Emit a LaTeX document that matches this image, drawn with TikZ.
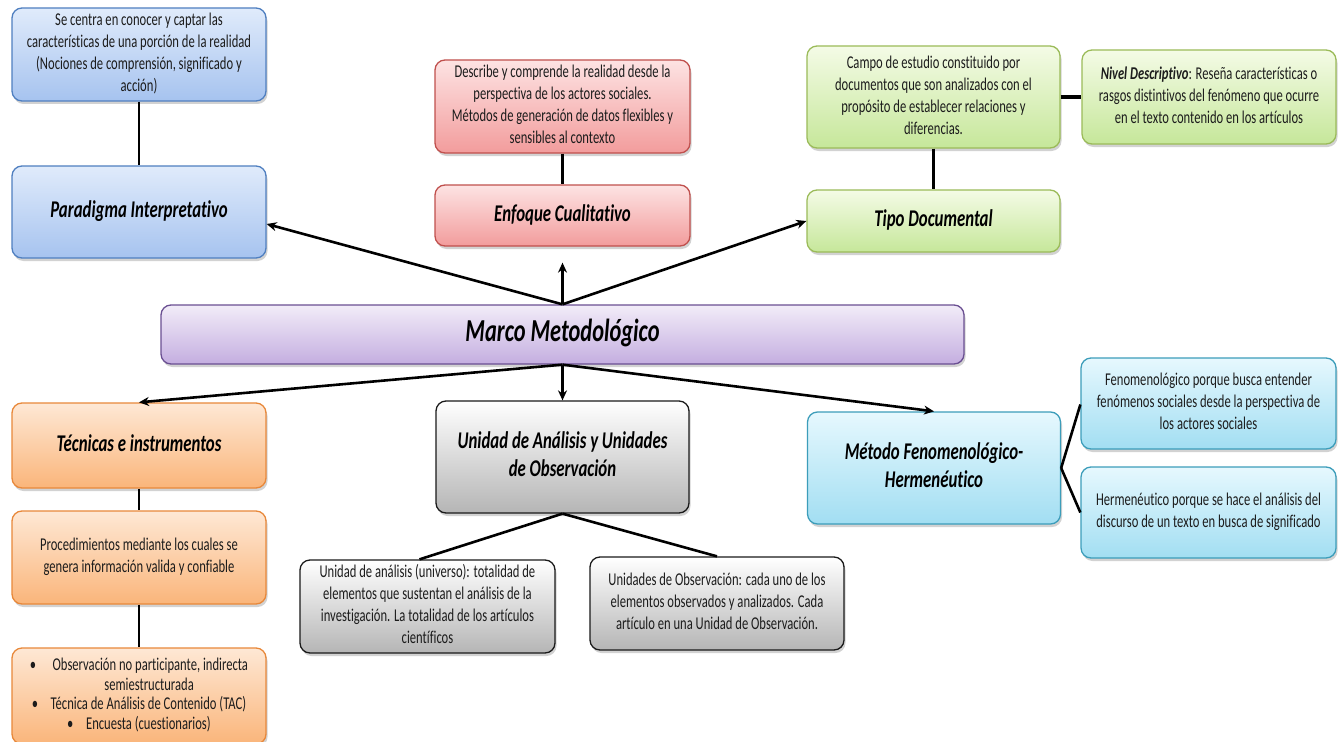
\documentclass[tikz,border=0pt]{standalone}
\usepackage{fontspec}
\setmainfont{Carlito}[RawFeature={-liga;-clig;-calt}]
\usepackage{graphicx}
\usetikzlibrary{shadows,arrows.meta,calc}

% box palettes: top shade, bottom shade, outline
\definecolor{blueTop}{HTML}{E0EBFB}\definecolor{blueBot}{HTML}{A6C3EF}\definecolor{blueLine}{HTML}{4F7FC0}
\definecolor{redTop}{HTML}{FDE3E3}\definecolor{redBot}{HTML}{F29C9C}\definecolor{redLine}{HTML}{C0504D}
\definecolor{greenTop}{HTML}{F4FBE6}\definecolor{greenBot}{HTML}{C6E79A}\definecolor{greenLine}{HTML}{9BBB59}
\definecolor{purpleTop}{HTML}{F2ECF8}\definecolor{purpleBot}{HTML}{C4AEE0}\definecolor{purpleLine}{HTML}{6A4F92}
\definecolor{orangeTop}{HTML}{FEE8D5}\definecolor{orangeBot}{HTML}{FAB57A}\definecolor{orangeLine}{HTML}{E8883A}
\definecolor{grayTop}{HTML}{FFFFFF}\definecolor{grayBot}{HTML}{B5B5B5}\definecolor{grayLine}{HTML}{1A1A1A}
\definecolor{cyanTop}{HTML}{E6F8FE}\definecolor{cyanBot}{HTML}{A2DEF2}\definecolor{cyanLine}{HTML}{3C9DBA}
\definecolor{bodyText}{HTML}{1C1C1C}

% condensed, centred multi-line text
\newcommand{\narrow}[1]{\scalebox{0.7}[1]{\begin{tabular}{@{}c@{}}#1\end{tabular}}}

\begin{document}
\begin{tikzpicture}[x=1pt,y=-1pt,
  box/.style={rounded corners=10pt, line width=1.3pt, inner sep=0pt,
    minimum width=254pt,
    drop shadow={shadow xshift=1.5pt, shadow yshift=-3pt, opacity=0.35}},
  bluebox/.style={box, draw=blueLine, top color=blueTop, bottom color=blueBot},
  redbox/.style={box, draw=redLine, top color=redTop, bottom color=redBot},
  greenbox/.style={box, draw=greenLine, top color=greenTop, bottom color=greenBot},
  purplebox/.style={box, draw=purpleLine, top color=purpleTop, bottom color=purpleBot},
  orangebox/.style={box, draw=orangeLine, top color=orangeTop, bottom color=orangeBot},
  graybox/.style={box, draw=grayLine, top color=grayTop, bottom color=grayBot},
  cyanbox/.style={box, draw=cyanLine, top color=cyanTop, bottom color=cyanBot},
  body/.style={font=\fontsize{18}{22}\selectfont, text=bodyText},
  title/.style={font=\fontsize{24}{28}\selectfont\bfseries\itshape, text=black},
  link/.style={line width=2.6pt, black},
  arrowlink/.style={link, -{Stealth[length=10pt,width=9pt]}}
]
\useasboundingbox[fill=white] (0,0) rectangle (1340,741);

% ---- upper row ----
\node[bluebox, body, minimum height=93pt] (interpDesc) at (139,54.5)
  {\narrow{Se centra en conocer y captar las\\características de una porción de la realidad\\(Nociones de comprensión, significado y\\acción)}};
\node[bluebox, title, minimum height=92pt] (paradigma) at (139,212)
  {\narrow{Paradigma Interpretativo}};

\node[redbox, body, minimum width=255pt, minimum height=93pt] (cualDesc) at (562.5,106.5)
  {\narrow{Describe y comprende la realidad desde la\\perspectiva de los actores sociales.\\Métodos de generación de datos flexibles y\\sensibles al contexto}};
\node[redbox, title, minimum width=255pt, minimum height=61pt] (enfoque) at (562.5,215.5)
  {\narrow{Enfoque Cualitativo}};

\node[greenbox, body, minimum width=253pt, minimum height=102pt] (docDesc) at (933.5,97)
  {\narrow{Campo de estudio constituido por\\documentos que son analizados con el\\propósito de establecer relaciones y\\diferencias.}};
\node[greenbox, body, minimum width=254pt, minimum height=94pt] (nivel) at (1209,97)
  {\narrow{\textbf{\textit{Nivel Descriptivo}}: Reseña características o\\rasgos distintivos del fenómeno que ocurre\\en el texto contenido en los artículos}};
\node[greenbox, title, minimum width=253pt, minimum height=62pt] (tipo) at (933.5,221)
  {\narrow{Tipo Documental}};

% ---- central node ----
\node[purplebox, font=\fontsize{32}{36}\selectfont\bfseries\itshape,
      minimum width=803pt, minimum height=59pt] (marco) at (562.5,334.5)
  {\narrow{Marco Metodológico}};

% ---- lower row ----
\node[orangebox, title, minimum height=85pt] (tecnicas) at (139,445.5)
  {\narrow{Técnicas e instrumentos}};
\node[orangebox, body, minimum height=93pt] (proced) at (139,557.5)
  {\narrow{Procedimientos mediante los cuales se\\genera información valida y confiable}};
\node[orangebox, font=\fontsize{18}{19.5}\selectfont, text=bodyText, minimum height=96pt] (listado) at (139,696)
  {\narrow{\textbullet\hspace{1.3em}Observación no participante, indirecta\\
    \hspace*{1.6em}semiestructurada\\
    \textbullet\hspace{1em}Técnica de Análisis de Contenido (TAC)\\
    \textbullet\hspace{1em}Encuesta (cuestionarios)}};

\node[graybox, title, minimum width=253pt, minimum height=112pt] (unidad) at (562.5,457)
  {\narrow{Unidad de Análisis y Unidades\\de Observación}};
\node[graybox, body, minimum width=255pt, minimum height=93pt] (universo) at (427.5,606.5)
  {\narrow{Unidad de análisis (universo): totalidad de\\elementos que sustentan el análisis de la\\investigación. La totalidad de los artículos\\científicos}};
\node[graybox, body, minimum width=254pt, minimum height=93pt] (observ) at (717,603.5)
  {\narrow{Unidades de Observación: cada uno de los\\elementos observados y analizados. Cada\\artículo en una Unidad de Observación.}};

\node[cyanbox, title, minimum width=253pt, minimum height=112pt] (metodo) at (934,468)
  {\narrow{Método Fenomenológico-\\Hermenéutico}};
\node[cyanbox, body, minimum width=255pt, minimum height=91pt] (fenom) at (1208.5,403.5)
  {\narrow{Fenomenológico porque busca entender\\fenómenos sociales desde la perspectiva de\\los actores sociales}};
\node[cyanbox, body, minimum width=255pt, minimum height=91pt] (herme) at (1208.5,512.5)
  {\narrow{Hermenéutico porque se hace el análisis del\\discurso de un texto en busca de significado}};

% ---- connectors ----
\draw[link] (interpDesc.south) -- (paradigma.north);
\draw[link] (cualDesc.south) -- (enfoque.north);
\draw[link] (docDesc.south) -- (tipo.north);
\draw[link, line width=3.5pt] (docDesc.east) -- (nivel.west);

\draw[arrowlink] (marco.north) -- ([yshift=-12pt]paradigma.east);
\draw[arrowlink] (marco.north) -- ([yshift=-16pt]enfoque.south);
\draw[arrowlink] (marco.north) -- (tipo.west);

\draw[arrowlink] (marco.south) -- (tecnicas.north);
\draw[arrowlink] (marco.south) -- (unidad.north);
\draw[arrowlink] (marco.south) -- (metodo.north);

\draw[link] (tecnicas.south) -- (proced.north);
\draw[link] (proced.south) -- (listado.north);

\draw[link] (unidad.south) -- ([xshift=-8pt]universo.north);
\draw[link] (unidad.south) -- (observ.north);

\draw[link] (metodo.east) -- ([yshift=-1pt]fenom.west);
\draw[link] (metodo.east) -- (herme.west);
\end{tikzpicture}
\end{document}
